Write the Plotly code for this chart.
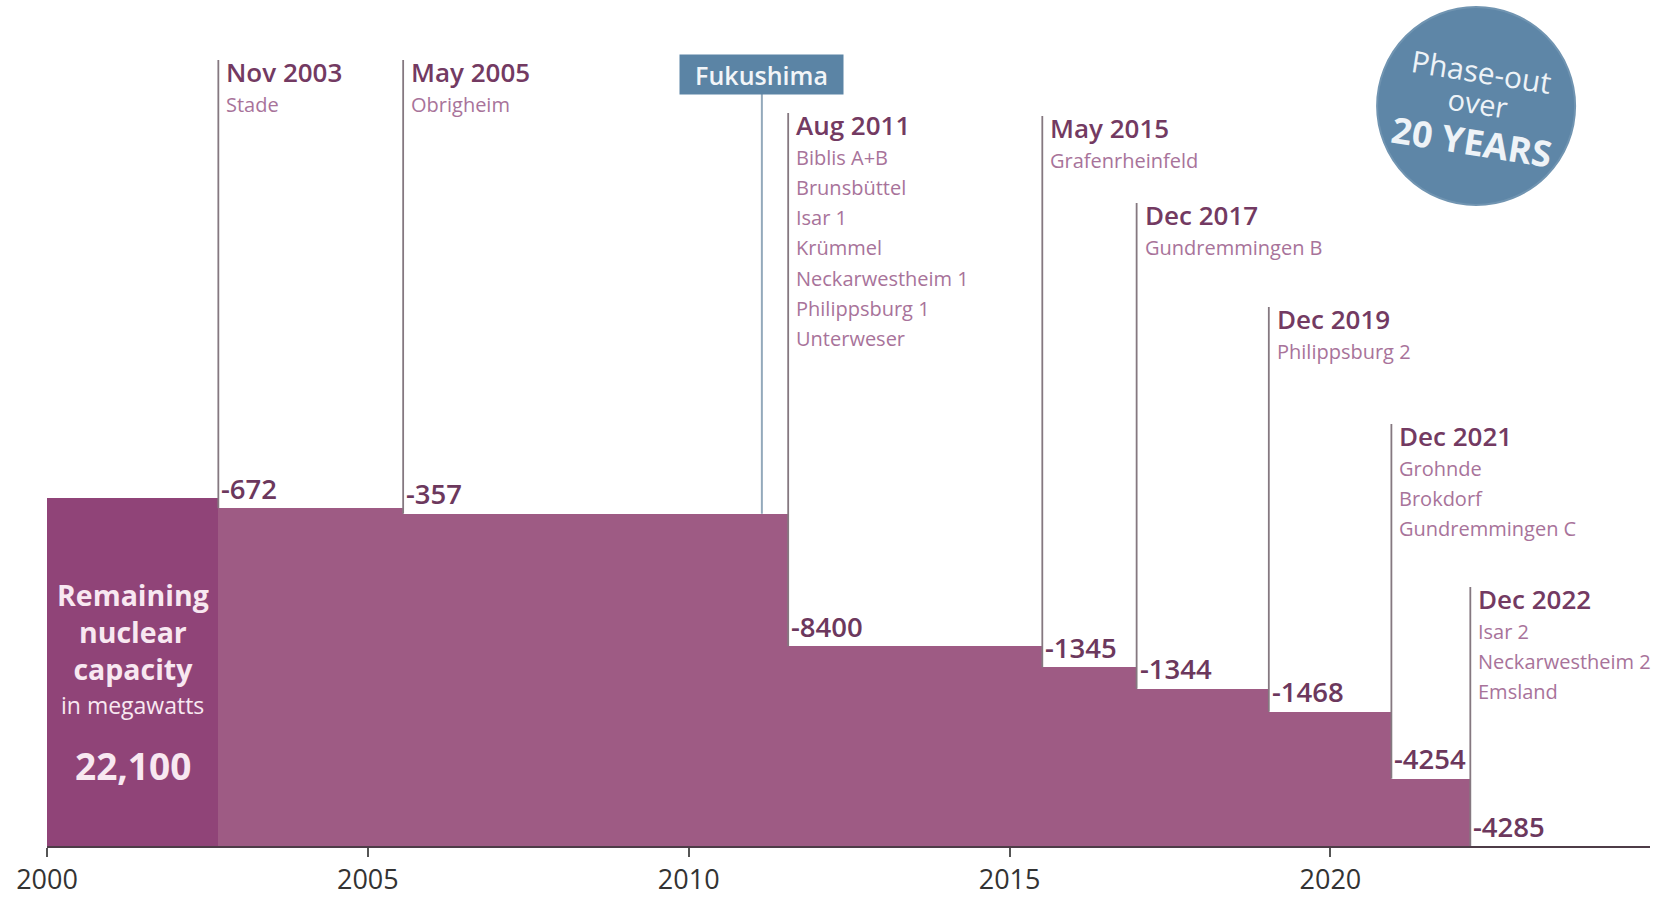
import plotly.graph_objects as go

# ---------------- data ----------------
start_year = 2000
start_capacity = 22100
event_labels = ["Nov 2003", "May 2005", "Aug 2011", "May 2015",
                "Dec 2017", "Dec 2019", "Dec 2021", "Dec 2022"]
event_x = [2002.67, 2005.55, 2011.55, 2015.51, 2016.98, 2019.04, 2020.95, 2022.18]
reductions = [-672, -357, -8400, -1345, -1344, -1468, -4254, -4285]
plants = [
    ["Stade"],
    ["Obrigheim"],
    ["Biblis A+B", "Brunsbüttel", "Isar 1", "Krümmel",
     "Neckarwestheim 1", "Philippsburg 1", "Unterweser"],
    ["Grafenrheinfeld"],
    ["Gundremmingen B"],
    ["Philippsburg 2"],
    ["Grohnde", "Brokdorf", "Gundremmingen C"],
    ["Isar 2", "Neckarwestheim 2", "Emsland"],
]
fukushima_x = 2011.14
tick_years = [2000, 2005, 2010, 2015, 2020]

# ---------------- layout helpers ----------------
W, H = 1660, 897
M_T, M_B, M_L, M_R = 0, 51, 47, 10
X_MAX = 2024.98
PLOT_H = H - M_T - M_B
Y_MAX = PLOT_H / 0.015765


def mw(px_y):
    """convert a pixel row of the page to a value on the y axis (for label placement)"""
    return (H - M_B - px_y) * Y_MAX / PLOT_H


label_top_px = [60, 60, 113, 116, 203, 307, 424, 587]

FONT = "Open Sans"
BAR = "#9e5b84"
BAR_DARK = "#904478"
DATE_C = "#733a62"
PLANT_C = "#a8739a"
VAL_C = "#6c385d"
LINE_C = "#857880"
BLUE = "#5b84a5"

# segment levels
levels = [start_capacity]
for r in reductions:
    levels.append(levels[-1] + r)
bounds = [start_year] + event_x
seg_x = [(bounds[i] + bounds[i + 1]) / 2 for i in range(len(bounds) - 1)]
seg_w = [bounds[i + 1] - bounds[i] for i in range(len(bounds) - 1)]
seg_y = levels[:len(seg_x)]
seg_c = [BAR_DARK] + [BAR] * (len(seg_x) - 1)

fig = go.Figure()
fig.add_trace(go.Bar(x=seg_x, y=seg_y, width=seg_w,
                     marker=dict(color=seg_c, line=dict(width=0)),
                     hoverinfo="skip", showlegend=False))

shapes = []
ann = []

for i, lab in enumerate(event_labels):
    x = event_x[i]
    new_level = levels[i + 1]
    top = label_top_px[i]
    shapes.append(dict(type="line", xref="x", yref="y", x0=x, x1=x,
                       y0=max(new_level, 0), y1=mw(top),
                       line=dict(color=LINE_C, width=1.8), layer="above"))
    ann.append(dict(x=x, y=mw(top + 12), xref="x", yref="y", text=lab,
                    showarrow=False, xanchor="left", yanchor="middle", xshift=6,
                    font=dict(family=FONT, size=26, color=DATE_C, weight=600)))
    for j, p in enumerate(plants[i]):
        ann.append(dict(x=x, y=mw(top + 12 + 32 + 30.3 * j), xref="x", yref="y",
                        text=p, showarrow=False, xanchor="left", yanchor="middle",
                        xshift=6,
                        font=dict(family=FONT, size=20, color=PLANT_C)))
    ann.append(dict(x=x, y=max(new_level, 0), xref="x", yref="y",
                    text=f"{reductions[i]}", showarrow=False,
                    xanchor="left", yanchor="middle", xshift=1, yshift=20,
                    font=dict(family=FONT, size=27.5, color=VAL_C, weight=600)))

# Fukushima marker
shapes.append(dict(type="line", xref="x", yref="y", x0=fukushima_x, x1=fukushima_x,
                   y0=levels[2], y1=mw(94),
                   line=dict(color="#93a9bb", width=2), layer="above"))
ann.append(dict(x=fukushima_x, y=mw(74.5), xref="x", yref="y", text="Fukushima",
                showarrow=False, xanchor="center", yanchor="middle",
                width=157, height=33, bgcolor=BLUE, borderpad=3,
                font=dict(family=FONT, size=25, color="#f2f5f8", weight=600)))

# Phase-out circle
cx = 2022.27
cy = mw(106)
rx = 99 / ((W - M_L - M_R) / (X_MAX - start_year))
ry = 99 * Y_MAX / PLOT_H
shapes.append(dict(type="circle", xref="x", yref="y",
                   x0=cx - rx, x1=cx + rx, y0=cy - ry, y1=cy + ry,
                   fillcolor="#5e86a7", line=dict(color="#7094b1", width=2),
                   layer="above"))
for txt, px, dx, size, wt in [("Phase-out", 71, 0.08, 30, 400),
                              ("over", 102, 0.03, 29, 400),
                              ("20 YEARS", 141, -0.07, 36, 700)]:
    ann.append(dict(x=cx + dx, y=mw(px), xref="x", yref="y", text=txt,
                    showarrow=False, textangle=9, xanchor="center", yanchor="middle",
                    font=dict(family=FONT, size=size, color="#eef3f7", weight=wt)))

# Left block text
bx = seg_x[0]
ann.append(dict(x=bx, y=mw(632), xref="x", yref="y",
                text="Remaining<br>nuclear<br>capacity", showarrow=False,
                xanchor="center", yanchor="middle", align="center",
                font=dict(family=FONT, size=28.5, color="#f8e8f1", weight=700)))
for txt, px, size, wt in [("in megawatts", 705, 23, 400),
                          (f"{start_capacity:,}", 765, 37, 700)]:
    ann.append(dict(x=bx, y=mw(px), xref="x", yref="y", text=txt, showarrow=False,
                    xanchor="center", yanchor="middle",
                    font=dict(family=FONT, size=size, color="#f8e8f1", weight=wt)))

fig.update_layout(
    width=W, height=H,
    margin=dict(l=M_L, r=M_R, t=M_T, b=M_B),
    paper_bgcolor="white", plot_bgcolor="white",
    shapes=shapes, annotations=ann,
    bargap=0,
    xaxis=dict(range=[start_year, X_MAX], tickvals=tick_years,
               ticktext=[str(t) for t in tick_years], automargin=False,
               showgrid=False, zeroline=False, showline=True,
               linecolor="#4d3c47", linewidth=2,
               ticks="outside", ticklen=9, tickwidth=1.5, tickcolor="#555",
               tickfont=dict(family=FONT, size=27, color="#333")),
    yaxis=dict(range=[0, Y_MAX], visible=False, showgrid=False, zeroline=False,
               automargin=False),
)

fig.write_html("out.html",
               config={"displayModeBar": False},
               post_script="document.body.style.margin='0';"
                           "document.body.style.overflow='hidden';")
